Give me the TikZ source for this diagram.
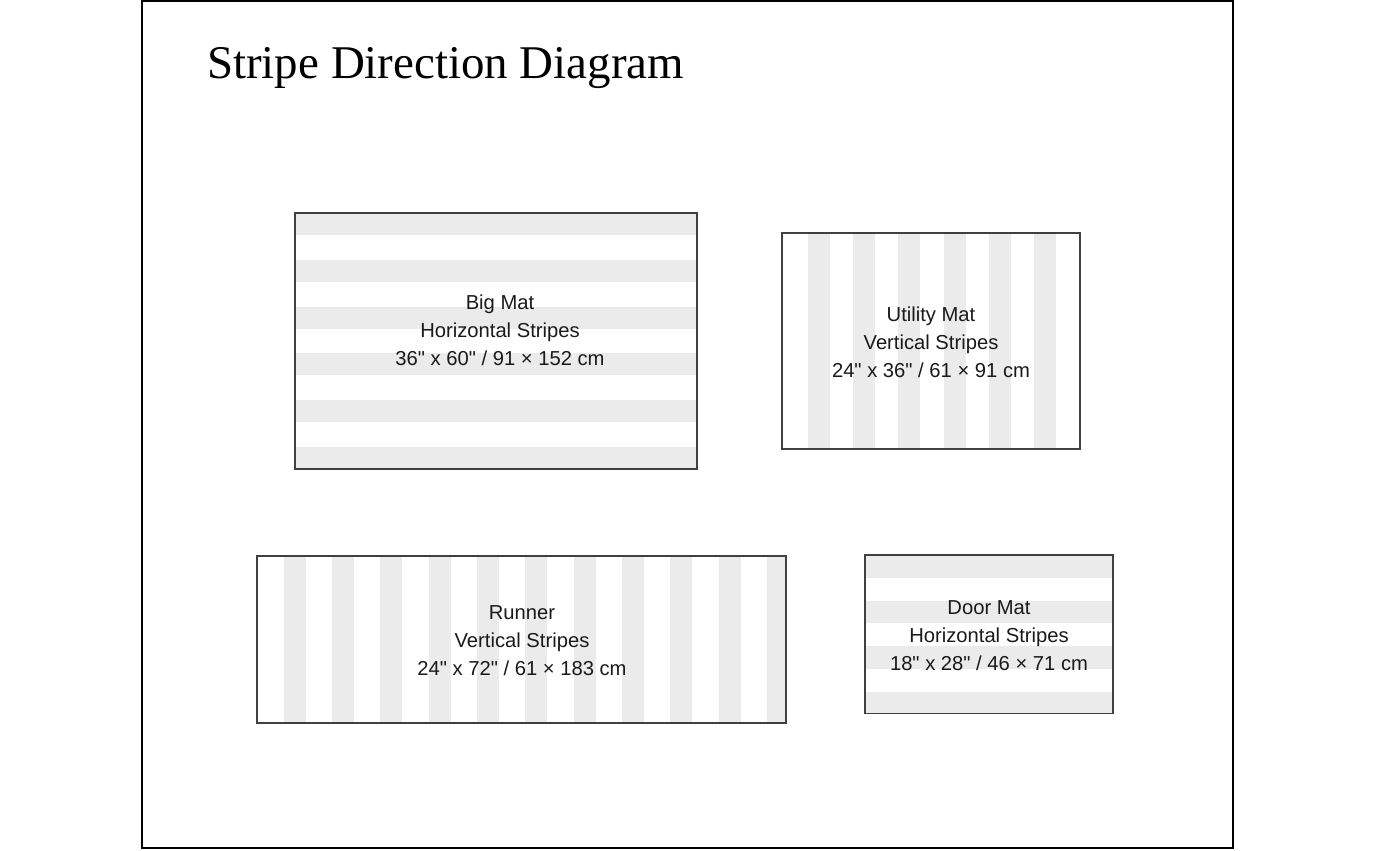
\documentclass[tikz,border=0pt]{standalone}
\usepackage{fontspec}
\setmainfont{Liberation Serif}
\newfontfamily\matfont[Ligatures=TeXOff]{Liberation Sans}
\usetikzlibrary{calc}
\definecolor{stripegray}{HTML}{EBEBEB}
\definecolor{edgegray}{HTML}{404040}
\definecolor{inkblack}{HTML}{1A1A1A}
\tikzset{
  mat/.style={draw=edgegray,line width=0.7pt,inner sep=0pt,outer sep=0pt},
  stripe/.style={fill=stripegray},
  matlabel/.style={align=center,text=inkblack,font=\matfont\fontsize{11.5}{15.9}\selectfont}
}

\begin{document}
\begin{tikzpicture}[x=0.02cm,y=-0.02cm]
      \useasboundingbox (0,0) rectangle (1375,850);
      \draw[line width=1.2pt] (142,1) rectangle (1233,848);
      \node[anchor=base west,font=\fontsize{26.7}{30}\selectfont] (title) at (201,78) {Stripe Direction Diagram};
      \foreach \k in {0,...,5} \fill[stripe] (295,{213+\k*46.8}) rectangle ++(402,22);
      \foreach \k in {0,...,5} \fill[stripe] ({807.7+\k*45.3},233) rectangle ++(22,216);
      \begin{scope}
        \clip (257,556) rectangle (786,723);
        \foreach \k in {0,...,10} \fill[stripe] ({283.5+\k*48.35},556) rectangle ++(22,167);
      \end{scope}
      \foreach \k in {0,...,3} \fill[stripe] (865,{555+\k*45.6}) rectangle ++(248,22.5);
      \node[mat,minimum width=8.04cm,minimum height=5.12cm] (bigmat) at (496,341) {};
      \node[mat,minimum width=5.96cm,minimum height=4.32cm] (utilmat) at (931,341) {};
      \node[mat,minimum width=10.58cm,minimum height=3.34cm] (runner) at (521.5,639.5) {};
      \node[mat,minimum width=4.96cm,minimum height=3.17cm] (doormat) at (989,634.25) {};
      \node[matlabel] (bigmat-text) at (500,330) {Big Mat\\Horizontal Stripes\\36" x 60" / 91 × 152 cm};
      \node[matlabel] (utilmat-text) at (931,342) {Utility Mat\\Vertical Stripes\\24" x 36" / 61 × 91 cm};
      \node[matlabel] (runner-text) at (522,641) {Runner\\Vertical Stripes\\24" x 72" / 61 × 183 cm};
      \node[matlabel] (doormat-text) at (989,636) {Door Mat\\Horizontal Stripes\\18" x 28" / 46 × 71 cm};
\end{tikzpicture}
\end{document}
